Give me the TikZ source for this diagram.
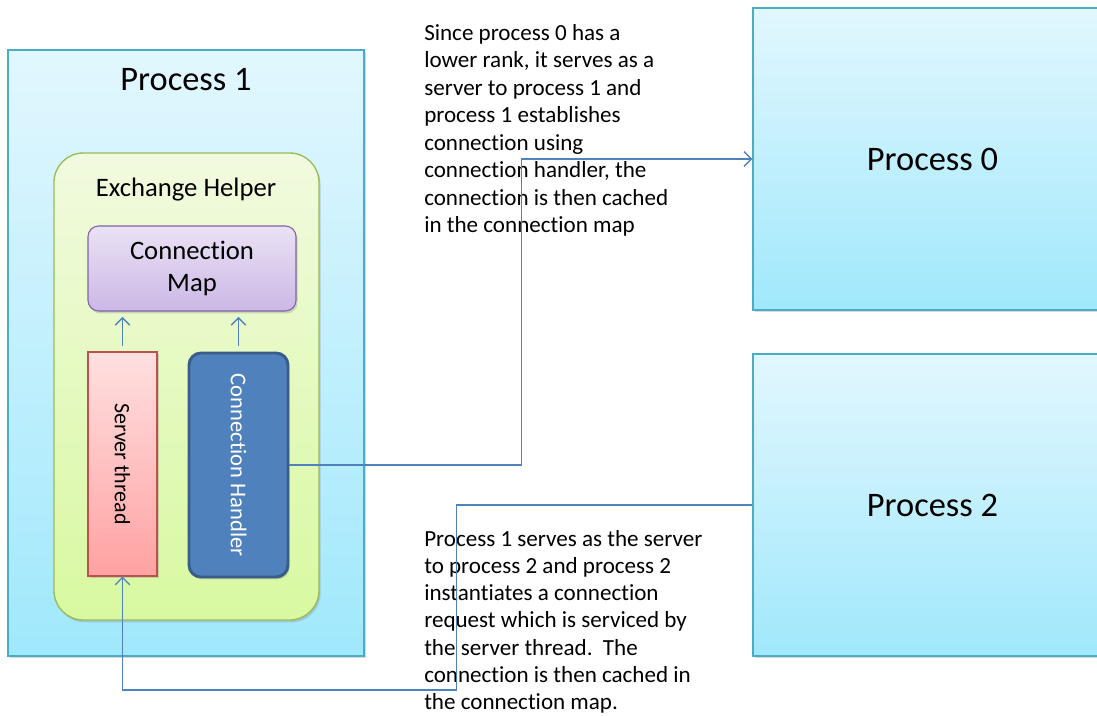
\documentclass[tikz,border=0pt]{standalone}
\usepackage{fontspec}
\setmainfont{Carlito}[Ligatures=NoCommon]
\usetikzlibrary{positioning,arrows.meta,shadows}
\definecolor{procline}{HTML}{4BACC6}
\definecolor{proctop}{HTML}{E2F7FE}
\definecolor{procbot}{HTML}{A0E8FC}
\definecolor{helpline}{HTML}{9BBB59}
\definecolor{helptop}{HTML}{F1FADF}
\definecolor{helpbot}{HTML}{D8F9A0}
\definecolor{mapline}{HTML}{8064A2}
\definecolor{maptop}{HTML}{EAE2F4}
\definecolor{mapbot}{HTML}{CBB7E6}
\definecolor{srvline}{HTML}{C0504D}
\definecolor{srvtop}{HTML}{FFE0E0}
\definecolor{srvbot}{HTML}{FFA2A2}
\definecolor{hdlfill}{HTML}{4F81BD}
\definecolor{hdlline}{HTML}{385D8A}
\definecolor{connblue}{HTML}{4F81BD}

\begin{document}
\begin{tikzpicture}[x=0.75pt,y=-0.75pt,
  shadowed/.style={drop shadow={opacity=.3,shadow xshift=1.2pt,shadow yshift=-1.8pt}},
  proc/.style={rectangle,draw=procline,line width=1pt,top color=proctop,bottom color=procbot,shadowed,inner sep=0pt,
    font=\fontsize{25.8}{30}\selectfont},
  helper/.style={rectangle,rounded corners=22pt,draw=helpline,line width=1pt,top color=helptop,bottom color=helpbot,shadowed,
    minimum width=198.75pt,minimum height=350.25pt},
  part/.style={rectangle,line width=0.8pt,shadowed,inner sep=0pt,minimum height=168pt},
  title/.style={font=\fontsize{20}{23.5}\selectfont,align=center},
  note/.style={anchor=north west,align=left,inner sep=0pt,font=\fontsize{17.3}{20.6}\selectfont},
  arr/.style={-{Straight Barb[length=5.5pt,width=11pt]},draw=connblue,line width=1pt}]
\useasboundingbox (0,0) rectangle (1097,715);

% process 1 with its exchange helper
\node[proc,minimum width=267pt,minimum height=454.5pt] (p1) at (186,353) {};
\node[font=\fontsize{25.8}{30}\selectfont] (p1lbl) at (186,80) {Process 1};
\node[helper] (eh) at (186.5,386.5) {};
\node[title] (ehlbl) at (186,190) {Exchange Helper};
\node[title,rectangle,rounded corners=8pt,draw=mapline,line width=0.8pt,top color=maptop,bottom color=mapbot,shadowed,
  minimum width=156pt,minimum height=63.75pt] (cmap) at (192,268.5) {Connection\\Map};
\node[part,draw=srvline,top color=srvtop,bottom color=srvbot,minimum width=51.75pt,font=\fontsize{16.5}{20}\selectfont]
  (srv) at (122.5,464) {\rotatebox{-90}{Server thread}};
\node[part,rounded corners=9pt,draw=hdlline,line width=2.2pt,fill=hdlfill,minimum width=74.25pt,text=white,
  font=\fontsize{16.9}{20}\selectfont] (hdl) at (238.5,465) {\rotatebox{-90}{Connection Handler}};

% the other processes
\node[proc,minimum width=261.75pt,minimum height=226.5pt] (p0) at (927.5,159) {\hspace*{7.5pt}Process 0};
\node[proc,minimum width=261.75pt,minimum height=226.5pt] (p2) at (927.5,505) {\hspace*{7.5pt}Process 2};

% notes
\node[note] (n1) at (424,24) {Since process 0 has a\\lower rank, it serves as a\\server to process 1 and\\process 1 establishes\\connection using\\connection handler, the\\connection is then cached\\in the connection map};
\node[note,font=\fontsize{17.3}{20.4}\selectfont] (n2) at (424,530) {Process 1 serves as the server\\to process 2 and process 2\\instantiates a connection\\request which is serviced by\\the server thread.\ \ The\\connection is then cached in\\the connection map.};

% connectors
\draw[arr,shorten <=4pt,shorten >=4pt] (srv.north) -- (srv.north |- cmap.south);
\draw[arr,shorten <=4pt,shorten >=4pt] (hdl.north) -- (hdl.north |- cmap.south);
\draw[arr] (hdl.east) -- ++(232,0) |- (p0.west);
\draw[arr] (p2.west) -- ++(-296,0) -- ++(0,185) -| (srv.south);
\end{tikzpicture}
\end{document}
